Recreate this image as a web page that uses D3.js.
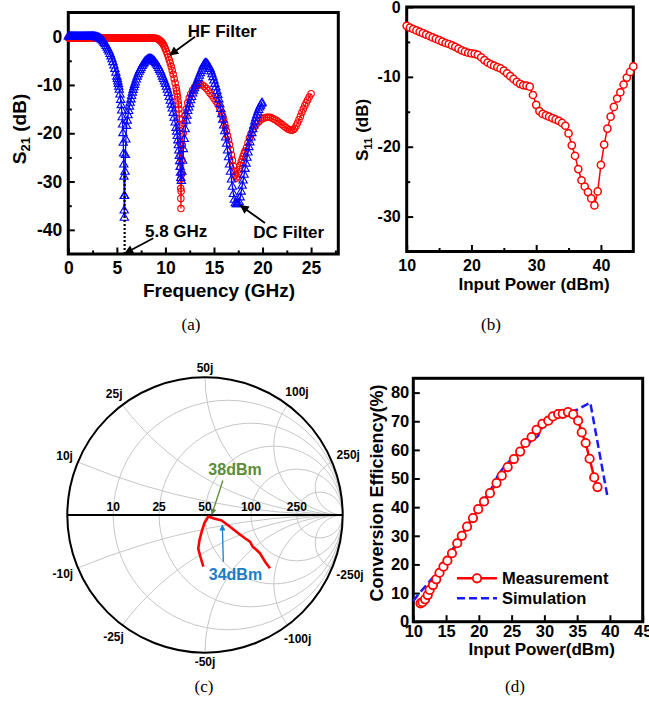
<!DOCTYPE html>
<html>
<head>
<meta charset="utf-8">
<title>Filters, S11, load trajectory and efficiency</title>
<script src="https://cdn.jsdelivr.net/npm/d3@7/dist/d3.min.js"></script>
<style>
  body { margin: 0; background: #fff; }
  text { font-family: "Liberation Sans", Arial, sans-serif; font-weight: bold; }
  text.cap { font-family: "Liberation Serif", "Times New Roman", serif; font-weight: normal; }
</style>
</head>
<body>
<svg id="fig" width="649" height="713"></svg>
<script>
// (a) S21 of the two filters, [GHz, dB]
var hfFilter = [[0,-0.3],[0.1,-0.3],[0.2,-0.3],[0.3,-0.3],[0.4,-0.3],[0.5,-0.3],[0.6,-0.3],[0.7,-0.3],[0.8,-0.3],[0.9,-0.3],[1,-0.3],[1.1,-0.3],[1.2,-0.3],[1.3,-0.3],[1.4,-0.3],[1.5,-0.3],[1.6,-0.3],[1.7,-0.3],[1.8,-0.3],[1.9,-0.3],[2,-0.3],[2.1,-0.3],[2.2,-0.3],[2.3,-0.3],[2.4,-0.3],[2.5,-0.3],[2.6,-0.3],[2.7,-0.3],[2.8,-0.3],[2.9,-0.3],[3,-0.3],[3.1,-0.3],[3.2,-0.3],[3.3,-0.3],[3.4,-0.3],[3.5,-0.3],[3.6,-0.3],[3.7,-0.3],[3.8,-0.3],[3.9,-0.3],[4,-0.3],[4.1,-0.3],[4.2,-0.3],[4.3,-0.3],[4.4,-0.3],[4.5,-0.3],[4.6,-0.3],[4.7,-0.3],[4.8,-0.3],[4.9,-0.3],[5,-0.3],[5.1,-0.3],[5.2,-0.3],[5.3,-0.3],[5.4,-0.3],[5.5,-0.3],[5.6,-0.3],[5.7,-0.3],[5.8,-0.3],[5.9,-0.3],[6,-0.3],[6.1,-0.3],[6.2,-0.3],[6.3,-0.3],[6.4,-0.3],[6.5,-0.3],[6.6,-0.3],[6.7,-0.3],[6.8,-0.3],[6.9,-0.3],[7,-0.3],[7.1,-0.3],[7.2,-0.3],[7.3,-0.3],[7.4,-0.3],[7.5,-0.3],[7.6,-0.3],[7.7,-0.3],[7.8,-0.3],[7.9,-0.3],[8,-0.3],[8.1,-0.3],[8.2,-0.3],[8.3,-0.3],[8.4,-0.3],[8.5,-0.3],[8.6,-0.3],[8.7,-0.3],[8.8,-0.3],[8.9,-0.32],[9,-0.35],[9.1,-0.4],[9.2,-0.5],[9.3,-0.6],[9.4,-0.72],[9.5,-0.88],[9.6,-1.1],[9.7,-1.35],[9.8,-1.7],[9.9,-2.1],[10,-2.55],[10.1,-3.05],[10.2,-3.6],[10.3,-4.2],[10.4,-4.85],[10.5,-5.5],[10.6,-6.2],[10.7,-7],[10.8,-7.8],[10.9,-8.7],[11,-9.6],[11.1,-10.6],[11.15,-11.2],[11.2,-11.8],[11.25,-12.5],[11.3,-13.3],[11.34,-14.1],[11.38,-15],[11.41,-16],[11.44,-17],[11.47,-18.2],[11.49,-19.5],[11.52,-22],[11.54,-24.5],[11.56,-27],[11.57,-29.5],[11.58,-31.4],[11.59,-33.5],[11.6,-35.6],[11.62,-32],[11.65,-28.5],[11.69,-25.5],[11.75,-22.5],[11.83,-20],[11.92,-18],[12.02,-16.4],[12.15,-15],[12.3,-13.7],[12.45,-12.7],[12.6,-11.9],[12.8,-11.1],[13,-10.5],[13.2,-10.1],[13.4,-9.9],[13.6,-9.85],[13.8,-10],[14,-10.3],[14.2,-10.7],[14.4,-11.15],[14.6,-11.7],[14.8,-12.2],[15,-12.8],[15.2,-13.4],[15.4,-14],[15.6,-14.8],[15.8,-15.8],[15.9,-16.5],[16,-17.2],[16.1,-18],[16.2,-18.8],[16.3,-19.6],[16.4,-20.5],[16.5,-21.4],[16.6,-22.4],[16.7,-23.4],[16.8,-24.5],[16.9,-25.6],[17,-26.8],[17.1,-27.8],[17.2,-28.7],[17.3,-29.3],[17.4,-29],[17.5,-28.3],[17.6,-27.5],[17.7,-26.7],[17.8,-26],[17.9,-25.4],[18,-24.8],[18.1,-24.2],[18.2,-23.7],[18.35,-23],[18.5,-22],[18.65,-21],[18.8,-20.2],[19,-19.3],[19.2,-18.6],[19.4,-18],[19.6,-17.6],[19.8,-17.2],[20,-17],[20.2,-16.8],[20.4,-16.7],[20.6,-16.7],[20.8,-16.7],[21,-16.9],[21.2,-17.1],[21.4,-17.3],[21.6,-17.6],[21.8,-17.9],[22,-18.2],[22.2,-18.5],[22.4,-18.8],[22.6,-19.1],[22.8,-19.3],[23,-19.4],[23.15,-19.3],[23.3,-19],[23.45,-18.5],[23.6,-17.9],[23.75,-17.2],[23.9,-16.5],[24.05,-15.7],[24.2,-15],[24.35,-14.3],[24.5,-13.7],[24.65,-13.1],[24.8,-12.5],[25,-11.8]];
var dcFilter = [[0,0],[0.1,0],[0.2,0],[0.3,0],[0.4,0],[0.5,0],[0.6,0],[0.7,0],[0.8,0],[0.9,0],[1,0],[1.1,0],[1.2,0],[1.3,0],[1.4,0],[1.5,0],[1.6,0],[1.7,0],[1.8,0],[1.9,0],[2,0],[2.1,0],[2.2,0],[2.3,0],[2.4,0],[2.5,0],[2.6,0],[2.7,-0.03],[2.8,-0.07],[2.9,-0.12],[3,-0.18],[3.1,-0.25],[3.2,-0.33],[3.3,-0.45],[3.4,-0.6],[3.5,-0.8],[3.6,-1],[3.7,-1.3],[3.8,-1.6],[3.9,-1.95],[4,-2.3],[4.1,-2.7],[4.2,-3.1],[4.3,-3.6],[4.4,-4.1],[4.5,-4.7],[4.6,-5.3],[4.7,-6],[4.8,-6.7],[4.9,-7.5],[5,-8.3],[5.05,-8.8],[5.1,-9.3],[5.15,-9.8],[5.2,-10.4],[5.25,-11],[5.32,-12],[5.39,-13.1],[5.45,-14.2],[5.5,-15.3],[5.55,-16.7],[5.59,-18.2],[5.63,-20],[5.66,-22],[5.69,-24.2],[5.71,-26.5],[5.73,-29],[5.75,-33],[5.76,-36],[5.77,-37.5],[5.8,-33],[5.84,-28],[5.88,-24.5],[5.93,-21.3],[6,-18.5],[6.07,-17.4],[6.15,-16.3],[6.22,-15.4],[6.3,-14.5],[6.37,-13.7],[6.45,-13],[6.52,-12.3],[6.6,-11.6],[6.67,-11.05],[6.75,-10.5],[6.82,-10],[6.9,-9.5],[7,-8.9],[7.1,-8.3],[7.2,-7.8],[7.3,-7.3],[7.4,-6.9],[7.5,-6.5],[7.6,-6.1],[7.7,-5.8],[7.8,-5.5],[7.9,-5.2],[8,-5],[8.1,-4.85],[8.2,-4.7],[8.3,-4.63],[8.4,-4.6],[8.5,-4.63],[8.6,-4.7],[8.7,-4.85],[8.8,-5],[8.9,-5.25],[9,-5.5],[9.1,-5.8],[9.2,-6.1],[9.3,-6.5],[9.4,-6.9],[9.5,-7.3],[9.6,-7.8],[9.7,-8.3],[9.8,-8.8],[9.9,-9.3],[10,-9.8],[10.1,-10.4],[10.2,-11],[10.3,-11.7],[10.4,-12.5],[10.5,-13.3],[10.6,-14.1],[10.7,-14.9],[10.8,-15.8],[10.9,-16.8],[11,-17.8],[11.1,-18.9],[11.16,-19.7],[11.22,-20.6],[11.28,-21.5],[11.33,-22.5],[11.38,-23.6],[11.43,-24.7],[11.47,-25.8],[11.51,-27],[11.55,-28.2],[11.58,-29.3],[11.64,-29.9],[11.7,-28],[11.77,-25.7],[11.85,-23.3],[11.94,-21.2],[12.04,-19.2],[12.15,-17.4],[12.22,-16.4],[12.3,-15.4],[12.4,-14.7],[12.5,-14],[12.6,-13.2],[12.7,-12.5],[12.8,-11.8],[12.9,-11.2],[13,-10.7],[13.1,-10.2],[13.2,-9.7],[13.3,-9.1],[13.4,-8.6],[13.5,-8.1],[13.6,-7.6],[13.7,-7.1],[13.8,-6.6],[13.9,-6.1],[14,-5.7],[14.1,-5.5],[14.2,-5.5],[14.3,-5.7],[14.4,-6],[14.5,-6.3],[14.6,-6.7],[14.7,-7.2],[14.8,-7.8],[14.9,-8.4],[15,-9.1],[15.1,-9.8],[15.2,-10.5],[15.3,-11.3],[15.4,-12.1],[15.5,-13],[15.6,-14],[15.7,-15],[15.8,-16.1],[15.9,-17.2],[16,-18.4],[16.1,-19.6],[16.2,-20.9],[16.3,-22.2],[16.4,-23.6],[16.5,-25],[16.6,-26.5],[16.7,-28],[16.8,-29.6],[16.9,-31.1],[17,-32.6],[17.1,-33.8],[17.2,-34.5],[17.3,-34.7],[17.4,-34.7],[17.5,-34.6],[17.6,-34.3],[17.7,-33.3],[17.8,-32.1],[17.9,-30.9],[18,-29.8],[18.1,-28.6],[18.2,-27.4],[18.3,-26.3],[18.4,-25.1],[18.5,-24],[18.6,-22.9],[18.7,-21.9],[18.8,-20.9],[18.9,-20],[19,-19.2],[19.1,-18.4],[19.2,-17.6],[19.3,-16.9],[19.4,-16.3],[19.5,-15.7],[19.6,-15.2],[19.7,-14.7],[19.8,-14.3],[19.9,-13.9],[19.95,-13.7]];
var markerFreq = 5.8;

// (b) S11 versus input power
var s11Power = [10,10.5,11,11.5,12,12.5,13,13.5,14,14.5,15,15.5,16,16.5,17,17.5,18,18.5,19,19.5,20,20.5,21,21.5,22,22.5,23,23.5,24,24.5,25,25.5,26,26.5,27,27.5,28,28.5,29,29.5,30,30.5,31,31.5,32,32.5,33,33.5,34,34.5,35,35.5,36,36.5,37,37.5,38,38.5,39,39.5,40,40.5,41,41.5,42,42.5,43,43.5,44,44.5,45];
var s11Value = [-2.7,-2.95,-3.15,-3.35,-3.55,-3.75,-3.95,-4.15,-4.35,-4.55,-4.75,-4.95,-5.15,-5.3,-5.5,-5.7,-5.95,-6.2,-6.4,-6.55,-6.65,-6.7,-6.85,-7.2,-7.6,-7.95,-8.2,-8.4,-8.6,-8.8,-9.1,-9.5,-9.9,-10.3,-10.7,-11,-11.2,-11.25,-11.4,-12.6,-14,-14.9,-15.3,-15.5,-15.7,-15.9,-16.1,-16.3,-16.6,-17,-18.1,-19.8,-21.3,-23.2,-24.8,-25.7,-26.5,-27.4,-28.4,-26.4,-22.6,-19.7,-17.4,-15.7,-14.3,-13.1,-12.2,-11.1,-10.1,-9.3,-8.5];

// (c) Smith chart grid (ohms, Z0 = 50) and load reflection coefficient [re, im]
var z0 = 50;
var smithResist = [10, 25, 50, 100, 250];
var smithReact = [10, 25, 50, 100, 250];
var loadGamma = [[-0.012,-0.375],[-0.033,-0.305],[-0.049,-0.244],[-0.04,-0.182],[-0.024,-0.121],[-0.004,-0.058],[0.024,-0.011],[0.065,-0.025],[0.121,-0.04],[0.182,-0.085],[0.242,-0.133],[0.29,-0.169],[0.327,-0.194],[0.346,-0.23],[0.375,-0.254],[0.399,-0.278],[0.436,-0.339],[0.472,-0.387]];

// (d) conversion efficiency
var measPower = [11.1,11.4,11.8,12.2,12.5,13,13.5,14,14.6,15.2,15.9,16.7,17.4,18.2,19.1,19.9,20.8,21.7,22.7,23.5,24.4,25.35,26.3,27.1,28.05,28.8,29.7,30.6,31.3,32.1,32.8,33.6,34.4,35.15,35.7,36.3,36.9,37.6,38.1];
var measEff = [6.4,6.8,7.8,9.3,11.1,12.8,14.8,17.1,19.2,21.3,23.9,27.4,30,33.2,36.2,39.3,42,44.9,48.4,51,54,56.8,59.4,62.4,64.5,67,69.1,70.2,71.7,72.5,72.6,73.2,72.4,70.2,66.1,62.4,56.9,50.4,47];
var simPower = [10,11,12,13,14,15,16,17,18,19,20,21,22,23,24,25,26,27,28,29,29.5,30,31,32,33,34,35,36,37,38,39,39.6];
var simEff = [7.2,10.2,12.7,15.5,18.3,21.8,25.3,29,32.6,36.3,39.8,43.3,46.8,51.5,54.5,56.8,59,61.3,63.1,64.8,67,69.5,71.5,72.3,72.8,73.3,74,75.3,76.5,64,51.5,44];

var svg = d3.select("#fig");
var defs = svg.append("defs");

function arrowHead(id, color, w, h) {
  defs.append("marker").attr("id", id)
    .attr("viewBox", "0 0 10 10").attr("refX", 9).attr("refY", 5)
    .attr("markerWidth", w).attr("markerHeight", h)
    .attr("markerUnits", "userSpaceOnUse")
    .attr("orient", "auto")
    .append("path").attr("d", "M0,0L10,5L0,10z").attr("fill", color);
}
arrowHead("arrowK", "#000", 11, 9);
arrowHead("arrowG", "#5b8c3a", 8, 6);
arrowHead("arrowB", "#1c7cc6", 8, 6);

// framed axes with inward ticks
function axesBox(c) {
  var x = d3.scaleLinear().domain(c.xDomain).range([c.left, c.right]);
  var y = d3.scaleLinear().domain(c.yDomain).range([c.bottom, c.top]);
  var g = svg.append("g");
  var fmt = function(d) { return String(d); };

  if (c.xMinor) g.append("g").attr("transform", "translate(0," + c.bottom + ")")
    .call(d3.axisBottom(x).tickValues(c.xMinor).tickSize(-3.5).tickFormat(""));
  if (c.yMinor) g.append("g").attr("transform", "translate(" + c.left + ",0)")
    .call(d3.axisLeft(y).tickValues(c.yMinor).tickSize(-3.5).tickFormat(""));
  g.append("g").attr("transform", "translate(0," + c.bottom + ")")
    .call(d3.axisBottom(x).tickValues(c.xTicks).tickSize(-6.5).tickPadding(c.xPad).tickFormat(fmt));
  g.append("g").attr("transform", "translate(" + c.left + ",0)")
    .call(d3.axisLeft(y).tickValues(c.yTicks).tickSize(-6.5).tickPadding(c.yPad).tickFormat(fmt));

  g.selectAll(".domain").remove();
  g.selectAll(".tick line").attr("stroke", "#000").attr("stroke-width", 2);
  g.selectAll(".tick text").attr("font-size", c.fs).attr("fill", "#000");

  g.append("rect")
    .attr("x", c.left).attr("y", c.top)
    .attr("width", c.right - c.left).attr("height", c.bottom - c.top)
    .attr("fill", "none").attr("stroke", "#000").attr("stroke-width", 3);
  return { x: x, y: y, g: g };
}

function arrow(g, x1, y1, x2, y2, color, w, id) {
  g.append("line").attr("x1", x1).attr("y1", y1).attr("x2", x2).attr("y2", y2)
    .attr("stroke", color).attr("stroke-width", w).attr("marker-end", "url(#" + id + ")");
}

// ---------- (a) ----------
var A = axesBox({
  left: 68.3, right: 338.3, top: 12.5, bottom: 254,
  xDomain: [0, 27.8], yDomain: [-45, 5],
  xTicks: [0, 5, 10, 15, 20, 25], xMinor: [2.5, 7.5, 12.5, 17.5, 22.5, 27.5],
  yTicks: [-40, -30, -20, -10, 0], yMinor: [-35, -25, -15, -5],
  fs: 17.5, xPad: 8, yPad: 6
});
var lineA = d3.line().x(function(d) { return A.x(d[0]); }).y(function(d) { return A.y(d[1]); });

// HF filter first, DC filter on top
A.g.append("path").datum(hfFilter).attr("d", lineA)
  .attr("fill", "none").attr("stroke", "#ff0000").attr("stroke-width", 1.3);
A.g.selectAll(".ring").data(hfFilter).enter().append("circle")
  .attr("cx", function(d) { return A.x(d[0]); })
  .attr("cy", function(d) { return A.y(d[1]); })
  .attr("r", 3.2).attr("fill", "none").attr("stroke", "#ff0000").attr("stroke-width", 1.1);

A.g.append("path").datum(dcFilter).attr("d", lineA)
  .attr("fill", "none").attr("stroke", "#0000ff").attr("stroke-width", 1.3);
A.g.selectAll(".tri").data(dcFilter).enter().append("path")
  .attr("d", d3.symbol(d3.symbolTriangle, 30))
  .attr("transform", function(d) { return "translate(" + A.x(d[0]) + "," + A.y(d[1]) + ")"; })
  .attr("fill", "none").attr("stroke", "#0000ff").attr("stroke-width", 1.1);

A.g.append("line")
  .attr("x1", A.x(markerFreq)).attr("x2", A.x(markerFreq))
  .attr("y1", A.y(-28)).attr("y2", A.y(-45))
  .attr("stroke", "#000").attr("stroke-width", 2.2).attr("stroke-dasharray", "2,2");

A.g.append("text").attr("x", A.x(12.3)).attr("y", A.y(0)).attr("font-size", 17).text("HF Filter");
arrow(A.g, A.x(13.05), A.y(0), A.x(10.47), A.y(-3.8), "#000", 1.8, "arrowK");
A.g.append("text").attr("x", A.x(19.05)).attr("y", A.y(-41.7)).attr("font-size", 17).text("DC Filter");
arrow(A.g, A.x(20.25), A.y(-38.6), A.x(17.73), A.y(-34.95), "#000", 1.8, "arrowK");
A.g.append("text").attr("x", A.x(7.9)).attr("y", A.y(-41.4)).attr("font-size", 17).text("5.8 GHz");
arrow(A.g, A.x(8.75), A.y(-41.75), A.x(5.84), A.y(-44.85), "#000", 1.8, "arrowK");

A.g.append("text").attr("x", 219).attr("y", 297).attr("text-anchor", "middle")
  .attr("font-size", 19).text("Frequency (GHz)");
var tA = A.g.append("text").attr("transform", "translate(26,129) rotate(-90)")
  .attr("text-anchor", "middle").attr("font-size", 19);
tA.append("tspan").text("S");
tA.append("tspan").attr("font-size", 13).attr("dy", 4).text("21");
tA.append("tspan").attr("dy", -4).text(" (dB)");

// ---------- (b) ----------
var B = axesBox({
  left: 406.7, right: 633.3, top: 7, bottom: 251.5,
  xDomain: [10, 45], yDomain: [-35, 0],
  xTicks: [10, 20, 30, 40], xMinor: [15, 25, 35],
  yTicks: [0, -10, -20, -30], yMinor: [-5, -15, -25],
  fs: 16, xPad: 8, yPad: 6
});
var s11 = s11Power.map(function(p, i) { return [p, s11Value[i]]; });
B.g.append("path").datum(s11)
  .attr("d", d3.line().x(function(d) { return B.x(d[0]); }).y(function(d) { return B.y(d[1]); }))
  .attr("fill", "none").attr("stroke", "#ff0000").attr("stroke-width", 1.5);
B.g.selectAll(".pt").data(s11).enter().append("circle")
  .attr("cx", function(d) { return B.x(d[0]); })
  .attr("cy", function(d) { return B.y(d[1]); })
  .attr("r", 3.6).attr("fill", "#fff").attr("stroke", "#ff0000").attr("stroke-width", 1.5);

B.g.append("text").attr("x", 534).attr("y", 290).attr("text-anchor", "middle")
  .attr("font-size", 17).text("Input Power (dBm)");
var tB = B.g.append("text").attr("transform", "translate(367.5,130) rotate(-90)")
  .attr("text-anchor", "middle").attr("font-size", 17);
tB.append("tspan").text("S");
tB.append("tspan").attr("font-size", 11.5).attr("dy", 4).text("11");
tB.append("tspan").attr("dy", -4).text(" (dB)");

// ---------- (c) Smith chart ----------
var cx = 205, cy = 515, R = 137.7;
var gx = d3.scaleLinear().domain([-1, 1]).range([cx - R, cx + R]);
var gy = d3.scaleLinear().domain([-1, 1]).range([cy + R, cy - R]);
var S = svg.append("g");
defs.append("clipPath").attr("id", "unitDisk")
  .append("circle").attr("cx", cx).attr("cy", cy).attr("r", R);

var grid = S.append("g").attr("clip-path", "url(#unitDisk)")
  .attr("fill", "none").attr("stroke", "#c6c6c6").attr("stroke-width", 1);
smithResist.forEach(function(ohm) {
  var r = ohm / z0;
  grid.append("circle").attr("cx", gx(r / (r + 1))).attr("cy", gy(0))
    .attr("r", gx(1 / (r + 1)) - gx(0));
});
smithReact.forEach(function(ohm) {
  var xn = ohm / z0;
  [1, -1].forEach(function(s) {
    grid.append("circle").attr("cx", gx(1)).attr("cy", gy(s / xn))
      .attr("r", gx(1 / xn) - gx(0));
  });
});

S.append("circle").attr("cx", cx).attr("cy", cy).attr("r", R)
  .attr("fill", "none").attr("stroke", "#000").attr("stroke-width", 2);
S.append("line").attr("x1", gx(-1)).attr("x2", gx(1)).attr("y1", gy(0)).attr("y2", gy(0))
  .attr("stroke", "#000").attr("stroke-width", 2.2);

smithResist.forEach(function(ohm) {
  var r = ohm / z0;
  S.append("text").attr("x", gx((r - 1) / (r + 1))).attr("y", gy(0) - 4)
    .attr("text-anchor", "middle").attr("font-size", 12).text(ohm);
});
smithReact.forEach(function(ohm) {
  var xn = ohm / z0;
  [1, -1].forEach(function(s) {
    var gr = (xn * xn - 1) / (xn * xn + 1), gi = s * 2 * xn / (xn * xn + 1);
    var t = S.append("text").attr("text-anchor", "middle").attr("dominant-baseline", "central")
      .attr("font-size", 12).text((s < 0 ? "-" : "") + ohm + "j");
    var w = t.node().getComputedTextLength();
    var d = R + 5 + (w / 2) * Math.abs(gr) + 4.5 * Math.abs(gi);
    t.attr("x", cx + d * gr).attr("y", cy - d * gi);
  });
});

S.append("path").datum(loadGamma)
  .attr("d", d3.line().x(function(d) { return gx(d[0]); }).y(function(d) { return gy(d[1]); }))
  .attr("fill", "none").attr("stroke", "#ff0000").attr("stroke-width", 2.6)
  .attr("stroke-linejoin", "round");

arrow(S, gx(0.13), gy(0.25), gx(0.05), gy(0.005), "#5b8c3a", 1.3, "arrowG");
S.append("text").attr("x", gx(0.218)).attr("y", gy(0.29)).attr("text-anchor", "middle")
  .attr("font-size", 16).attr("fill", "#5b8c3a").text("38dBm");
arrow(S, gx(0.133), gy(-0.339), gx(0.126), gy(-0.073), "#1c7cc6", 1.3, "arrowB");
S.append("text").attr("x", gx(0.221)).attr("y", gy(-0.472)).attr("text-anchor", "middle")
  .attr("font-size", 16).attr("fill", "#1c7cc6").text("34dBm");

// ---------- (d) ----------
var D = axesBox({
  left: 413.3, right: 642.7, top: 378.3, bottom: 621.7,
  xDomain: [10, 45], yDomain: [0, 85],
  xTicks: [10, 15, 20, 25, 30, 35, 40, 45],
  yTicks: [0, 10, 20, 30, 40, 50, 60, 70, 80],
  fs: 16.5, xPad: 4, yPad: 4
});
var lineD = d3.line().x(function(d) { return D.x(d[0]); }).y(function(d) { return D.y(d[1]); });
var sim = simPower.map(function(p, i) { return [p, simEff[i]]; });
var meas = measPower.map(function(p, i) { return [p, measEff[i]]; });

D.g.append("path").datum(sim).attr("d", lineD)
  .attr("fill", "none").attr("stroke", "#1a1aff").attr("stroke-width", 2.5)
  .attr("stroke-dasharray", "8,4");
D.g.append("path").datum(meas).attr("d", lineD)
  .attr("fill", "none").attr("stroke", "#ff0000").attr("stroke-width", 2.5);
D.g.selectAll(".pt").data(meas).enter().append("circle")
  .attr("cx", function(d) { return D.x(d[0]); })
  .attr("cy", function(d) { return D.y(d[1]); })
  .attr("r", 4.2).attr("fill", "#fff").attr("stroke", "#ff0000").attr("stroke-width", 1.8);

// legend
var lx = 457, ly = 578.3;
D.g.append("line").attr("x1", lx).attr("x2", lx + 40).attr("y1", ly).attr("y2", ly)
  .attr("stroke", "#ff0000").attr("stroke-width", 2.5);
D.g.append("circle").attr("cx", lx + 20).attr("cy", ly).attr("r", 4.2)
  .attr("fill", "#fff").attr("stroke", "#ff0000").attr("stroke-width", 1.8);
D.g.append("text").attr("x", lx + 45).attr("y", ly + 6).attr("font-size", 16.5).text("Measurement");
D.g.append("line").attr("x1", lx).attr("x2", lx + 40).attr("y1", ly + 20).attr("y2", ly + 20)
  .attr("stroke", "#1a1aff").attr("stroke-width", 2.5).attr("stroke-dasharray", "8,4");
D.g.append("text").attr("x", lx + 45).attr("y", ly + 26).attr("font-size", 16.5).text("Simulation");

D.g.append("text").attr("x", 541.7).attr("y", 655).attr("text-anchor", "middle")
  .attr("font-size", 17).text("Input Power(dBm)");
D.g.append("text").attr("transform", "translate(383,493) rotate(-90)")
  .attr("text-anchor", "middle").attr("font-size", 18).text("Conversion Efficiency(%)");

// panel captions
[["(a)", 191, 330], ["(b)", 491, 330], ["(c)", 204, 692], ["(d)", 515, 692]].forEach(function(c) {
  svg.append("text").attr("class", "cap").attr("x", c[1]).attr("y", c[2])
    .attr("text-anchor", "middle").attr("font-size", 17).text(c[0]);
});
</script>
</body>
</html>
